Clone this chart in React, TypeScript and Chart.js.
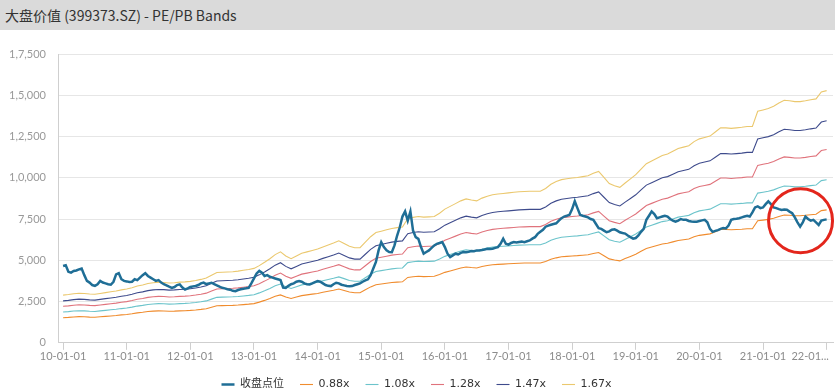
import React, { useEffect, useRef } from "react";
import { Chart, registerables } from "chart.js";

Chart.register(...registerables);

const TITLE = "大盘价值 (399373.SZ) - PE/PB Bands";

const seriesNames = ["收盘点位", "0.88x", "1.08x", "1.28x", "1.47x", "1.67x"];
const bandMultipliers = [0.88, 1.08, 1.28, 1.47, 1.67];
const seriesColors = ["#1f6e96", "#f08c2e", "#6cc4cb", "#e0737c", "#3e4b8c", "#ebc86e"];

const xTickYears = [2010, 2011, 2012, 2013, 2014, 2015, 2016, 2017, 2018, 2019, 2020, 2021, 2022];
const xTickLabels = [
  "10-01-01", "11-01-01", "12-01-01", "13-01-01", "14-01-01", "15-01-01", "16-01-01",
  "17-01-01", "18-01-01", "19-01-01", "20-01-01", "21-01-01", "22-01...\u2002\u2002\u2002\u2002\u2002\u2002",
];
const yTickValues = [0, 2500, 5000, 7500, 10000, 12500, 15000, 17500];
const yTickLabels = ["0", "2,500", "5,000", "7,500", "1,0,000", "1,2,500", "1,5,000", "1,7,500"];

// 收盘点位: twice-monthly readings from 2010-01 to 2022-01
const closeStartYear = 2010;
const closePointsPerYear = 24;
const closeValues = [
  4650, 4700, 4300, 4250, 4350, 4380, 4450, 4500, 4100, 3750, 3650, 3500, 3450, 3550, 3750, 3650,
  3600, 3550, 3520, 3700, 4150, 4220, 3850, 3750, 3720, 3680, 3700, 3850, 3800, 3950, 4100, 4220,
  4050, 3950, 3850, 3750, 3800, 3650, 3550, 3480, 3400, 3330, 3380, 3500, 3540, 3350, 3230, 3300,
  3380, 3420, 3440, 3500, 3600, 3650, 3560, 3600, 3640, 3550, 3480, 3400, 3330, 3300, 3250, 3220,
  3150, 3130, 3200, 3240, 3280, 3300, 3330, 3600, 3900, 4200, 4360, 4250, 4050, 4100, 4000, 3950,
  3900, 3850, 3800, 3350, 3330, 3450, 3550, 3600, 3700, 3745, 3700, 3600, 3550, 3535, 3600, 3680,
  3745, 3700, 3600, 3500, 3450, 3436, 3550, 3640, 3600, 3520, 3480, 3440, 3420, 3436, 3500, 3550,
  3600, 3700, 3780, 3845, 4100, 4500, 4900, 5600, 6100, 5800, 5600, 5500, 5490, 5900, 6500, 7000,
  7650, 7960, 7400, 7960, 6800, 6400, 6300, 5800, 5400, 5500, 5600, 5750, 5900, 6000, 6050, 6110,
  5800, 5400, 5200, 5300, 5400, 5350, 5450, 5500, 5490, 5520, 5560, 5550, 5600, 5596, 5620, 5650,
  5700, 5680, 5700, 5750, 5800, 6000, 6310, 6000, 5950, 6050, 6100, 6080, 6110, 6130, 6100, 6150,
  6200, 6310, 6400, 6600, 6725, 6850, 7035, 7100, 7150, 7200, 7240, 7400, 7550, 7650, 7700, 7755,
  8100, 8575, 8160, 7755, 7700, 7650, 7600, 7500, 7450, 7200, 6950, 6900, 6800, 6700, 6750, 6850,
  6880, 6800, 6700, 6650, 6620, 6500, 6400, 6310, 6350, 6500, 6725, 6900, 7450, 7700, 7960, 7800,
  7550, 7600, 7650, 7700, 7650, 7500, 7400, 7340, 7400, 7500, 7450, 7450, 7380, 7350, 7340, 7340,
  7380, 7420, 7450, 7300, 6900, 6725, 6780, 6830, 6900, 6950, 6930, 7100, 7450, 7500, 7520, 7550,
  7600, 7650, 7700, 7650, 7900, 8200, 8270, 8160, 8200, 8400, 8575, 8400, 8200, 8160, 8100, 8050,
  8080, 8060, 7950, 7850, 7600, 7300, 7035, 7300, 7650, 7500, 7400, 7450, 7300, 7140, 7400, 7450,
  7480,
];

// 1.0x band base: monthly from 2010-01 to 2022-01
const baseStartYear = 2010;
const basePointsPerYear = 12;
const bandBaseValues = [
  1730, 1750, 1780, 1800, 1790, 1770, 1760, 1790, 1820, 1850, 1880, 1920,
  1950, 2000, 2060, 2100, 2150, 2180, 2200, 2190, 2170, 2180, 2200, 2210,
  2230, 2260, 2300, 2350, 2450, 2550, 2560, 2570, 2580, 2600, 2630, 2660,
  2700, 2800, 2920, 3050, 3200, 3300, 3150, 3050, 3150, 3250, 3300, 3350,
  3400, 3480, 3550, 3620, 3700, 3600, 3500, 3450, 3450, 3650, 3850, 4000,
  4050, 4100, 4150, 4180, 4200, 4500, 4550, 4580, 4560, 4570, 4580, 4700,
  4850, 4950, 5050, 5150, 5220, 5180, 5150, 5250, 5320, 5370, 5400, 5420,
  5440, 5460, 5480, 5490, 5500, 5500, 5500, 5600, 5750, 5850, 5920, 5950,
  5980, 6000, 6030, 6060, 6150, 6220, 6000, 5780, 5700, 5640, 5800, 5950,
  6100, 6300, 6500, 6600, 6700, 6800, 6850, 6950, 7050, 7100, 7150, 7300,
  7400, 7450, 7500, 7650, 7800, 7800, 7780, 7800, 7820, 7850, 7850, 8400,
  8450, 8500, 8580, 8700, 8800, 8780, 8750, 8750, 8780, 8820, 8850, 9100,
  9150,
];

// red hand-drawn highlight circle (data position of its centre)
const highlightCenter = { x: 2021.59, y: 7400 };
const highlightRadiusPx = 32;

const tickFont = { family: "Lato, 'DejaVu Sans', sans-serif", size: 11 };

export default function App() {
  const ref = useRef<HTMLCanvasElement>(null);

  useEffect(() => {
    const canvas = ref.current;
    if (!canvas) return;

    const datasets: any[] = [
      {
        label: seriesNames[0],
        data: closeValues.map((v, i) => ({ x: closeStartYear + i / closePointsPerYear, y: v })),
        borderColor: seriesColors[0],
        backgroundColor: seriesColors[0],
        borderWidth: 2.5,
        pointRadius: 0,
        tension: 0,
      },
      ...bandMultipliers.map((m, k) => ({
        label: seriesNames[k + 1],
        data: bandBaseValues.map((v, i) => ({ x: baseStartYear + i / basePointsPerYear, y: v * m })),
        borderColor: seriesColors[k + 1],
        backgroundColor: seriesColors[k + 1],
        borderWidth: 1.1,
        pointRadius: 0,
        tension: 0,
      })),
    ];

    const highlightPlugin = {
      id: "highlightCircle",
      afterDatasetsDraw(chart: any) {
        const { ctx, scales } = chart;
        const cx = scales.x.getPixelForValue(highlightCenter.x);
        const cy = scales.y.getPixelForValue(highlightCenter.y);
        ctx.save();
        ctx.beginPath();
        ctx.arc(cx, cy, highlightRadiusPx, 0, Math.PI * 2);
        ctx.strokeStyle = "#e3261c";
        ctx.lineWidth = 3;
        ctx.stroke();
        ctx.restore();
      },
    };

    const chart = new Chart(canvas, {
      type: "line",
      data: { datasets },
      options: {
        animation: false,
        responsive: false,
        maintainAspectRatio: false,
        events: [],
        layout: { padding: { top: 24, right: 2, left: 0, bottom: 0 } },
        plugins: {
          legend: {
            position: "bottom",
            labels: {
              usePointStyle: true,
              pointStyle: "line",
              pointStyleWidth: 13,
              padding: 16,
              color: "#333",
              font: { family: "'DejaVu Sans', 'Noto Sans CJK SC', sans-serif", size: 11 },
            },
          },
          tooltip: { enabled: false },
        },
        scales: {
          x: {
            type: "linear",
            min: 2009.92,
            max: 2022.1,
            afterBuildTicks: (s: any) => {
              s.ticks = xTickYears.map((v) => ({ value: v }));
            },
            afterFit: (s: any) => {
              s.paddingLeft = 0;
              s.paddingRight = 0;
            },
            ticks: {
              autoSkip: false,
              maxRotation: 0,
              minRotation: 0,
              padding: 0,
              color: "#8c8c8c",
              font: tickFont,
              callback: (_v: any, i: number) => xTickLabels[i],
            },
            grid: { drawOnChartArea: false, tickLength: 7, color: "#cfcfcf" },
            border: { color: "#cfcfcf" },
          },
          y: {
            min: 0,
            max: 17500,
            afterBuildTicks: (s: any) => {
              s.ticks = yTickValues.map((v) => ({ value: v }));
            },
            afterFit: (s: any) => {
              s.width = 58;
            },
            ticks: {
              padding: 12,
              color: "#999",
              font: tickFont,
              callback: (_v: any, i: number) => yTickLabels[i],
            },
            grid: { color: "#e6e6e6", drawTicks: false },
            border: { color: "#cfcfcf" },
          },
        },
      } as any,
      plugins: [highlightPlugin],
    });

    return () => chart.destroy();
  }, []);

  return (
    <div
      style={{
        position: "fixed",
        left: 0,
        top: 0,
        width: 835,
        height: 392,
        overflow: "hidden",
        background: "#fff",
      }}
    >
      <div
        style={{
          height: 30,
          background: "#dadada",
          color: "#333",
          fontFamily: "'Noto Sans CJK SC', sans-serif",
          fontSize: 14,
          lineHeight: "30px",
          paddingLeft: 5,
          boxSizing: "border-box",
          whiteSpace: "nowrap",
        }}
      >
        {TITLE}
      </div>
      <canvas ref={ref} width={835} height={370} style={{ display: "block" }} />
    </div>
  );
}
